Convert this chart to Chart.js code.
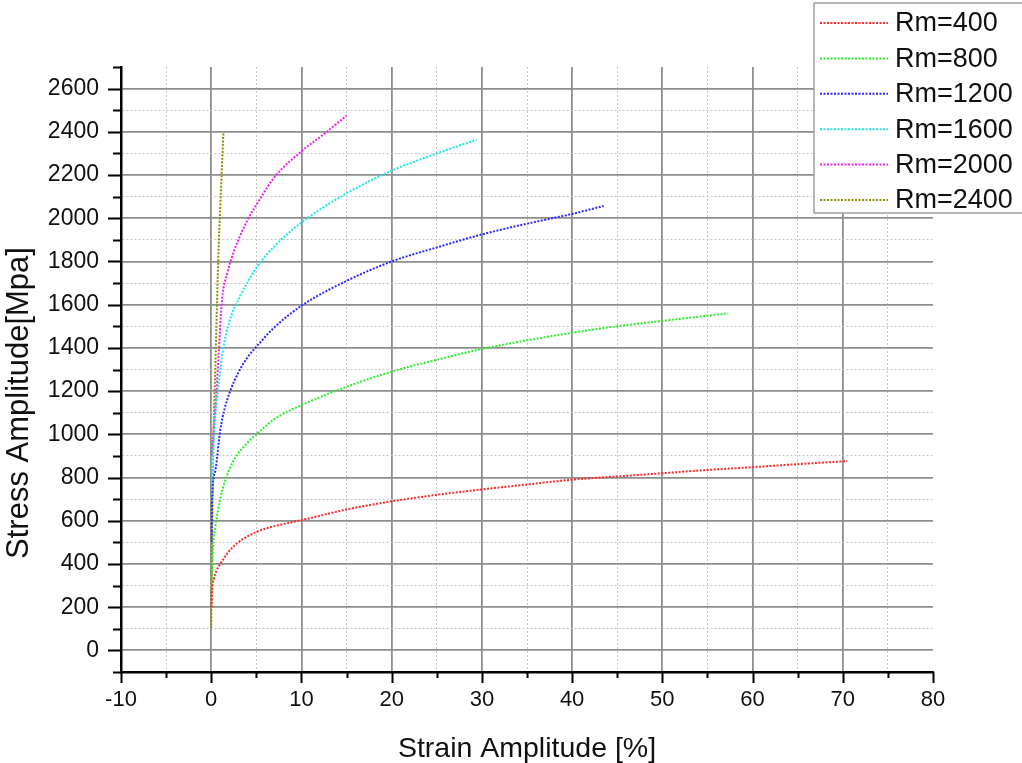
<!DOCTYPE html>
<html>
<head>
<meta charset="utf-8">
<script src="https://cdn.jsdelivr.net/npm/chart.js@4"></script>
<style>
  body { margin: 0; background: #fff; }
</style>
</head>
<body>
<canvas id="curveChart" width="1022" height="763"></canvas>
<script>
// Values (strain in %, stress in MPa)
const seriesLabels = ['Rm=400', 'Rm=800', 'Rm=1200', 'Rm=1600', 'Rm=2000', 'Rm=2400'];
const seriesColors = ['#ff2a2a', '#2aef2a', '#2a2aff', '#1fe6e6', '#f21ff2', '#8f8f00'];

const strain400 = [0.05, 0.1, 0.3, 0.6, 1, 2, 3, 5, 7, 10, 15, 20, 25, 30, 35, 40, 45, 50, 55, 60, 65, 70.5];
const stress400 = [200, 275, 330, 370, 400, 460, 500, 548, 575, 603, 652, 690, 720, 745, 768, 790, 805, 820, 835, 848, 862, 876];

const strain800 = [0.05, 0.2, 0.45, 1, 1.5, 2.5, 4, 5, 7, 10, 15, 20, 25, 30, 35, 40, 45, 50, 57.3];
const stress800 = [300, 480, 570, 700, 780, 880, 960, 1000, 1070, 1135, 1220, 1290, 1345, 1395, 1435, 1470, 1500, 1525, 1560];

const strain1200 = [0.05, 0.1, 0.45, 1, 1.5, 2.1, 3, 4, 5.1, 7, 10, 15, 20, 25, 30, 35, 40, 43.5];
const stress1200 = [500, 690, 830, 1020, 1120, 1200, 1285, 1355, 1410, 1495, 1595, 1710, 1800, 1865, 1925, 1975, 2020, 2057];

const strain1600 = [0.05, 0.3, 0.8, 1.35, 2, 3.2, 5, 7, 10, 15, 20, 25, 29.4];
const stress1600 = [700, 1000, 1220, 1400, 1520, 1640, 1770, 1870, 1980, 2115, 2220, 2300, 2363];

const strain2000 = [0.05, 0.6, 0.8, 1.2, 1.8, 2.5, 4, 5.5, 7, 10, 12.5, 15];
const stress2000 = [900, 1205, 1358, 1622, 1750, 1845, 1990, 2095, 2190, 2310, 2390, 2475];

const strain2400 = [0, 0.05, 0.1, 0.25, 0.45, 0.65, 0.8, 1.0, 1.2, 1.35];
const stress2400 = [100, 300, 540, 1005, 1300, 1622, 1840, 2050, 2250, 2395];

const xMin = -10, xMax = 80, xStep = 5;
const yMin = -100, yMax = 2700, yStep = 100;

const strains = [strain400, strain800, strain1200, strain1600, strain2000, strain2400];
const stresses = [stress400, stress800, stress1200, stress1600, stress2000, stress2400];

const FONT = '"Liberation Sans", Arial, sans-serif';

const datasets = seriesLabels.map((label, i) => ({
    label: label,
    data: strains[i].map((x, j) => ({ x: x, y: stresses[i][j] })),
    borderColor: seriesColors[i],
    backgroundColor: seriesColors[i],
    borderWidth: 2,
    borderDash: [2, 1.5],
    pointRadius: 0,
    cubicInterpolationMode: 'monotone',
    fill: false
}));

function isMajorX(v) { return v % 10 === 0; }
function isMajorY(v) { return v % 200 === 0; }

// grid styling: solid gray for major, dotted light gray for minor, none at the top / right end
function gridOpts(isMajor, maxVal) {
    const hidden = v => Math.abs(v - maxVal) < 1e-6;
    return {
        drawTicks: false,
        color: ctx => {
            if (!ctx.tick || hidden(ctx.tick.value)) return 'rgba(0,0,0,0)';
            return isMajor(ctx.tick.value) ? '#8e8e8e' : '#c6c6c6';
        },
        lineWidth: ctx => {
            if (!ctx.tick || hidden(ctx.tick.value)) return 0;
            return isMajor(ctx.tick.value) ? 1.8 : 1;
        }
    };
}

// ticks drawn outward, long for major, short for minor; plus axis titles and legend
const decorations = {
    id: 'decorations',
    afterDraw(chart) {
        const c = chart.ctx;
        const xs = chart.scales.x, ys = chart.scales.y;
        const area = chart.chartArea;
        c.save();
        c.strokeStyle = '#000';
        c.lineWidth = 2;
        c.beginPath();
        for (let v = xMin; v <= xMax; v += xStep) {
            const px = Math.round(xs.getPixelForValue(v)) + 0.5;
            c.moveTo(px, area.bottom);
            c.lineTo(px, area.bottom + (isMajorX(v) ? 11 : 6));
        }
        for (let v = yMin; v <= yMax; v += yStep) {
            const py = Math.round(ys.getPixelForValue(v)) + 0.5;
            c.moveTo(area.left, py);
            c.lineTo(area.left - (isMajorY(v) ? 13 : 8), py);
        }
        c.stroke();

        // axis titles
        c.fillStyle = '#111';
        c.textAlign = 'center';
        c.textBaseline = 'alphabetic';
        c.font = '28.5px ' + FONT;
        c.fillText('Strain Amplitude [%]', 527, 757);
        c.save();
        c.translate(28, 403);
        c.rotate(-Math.PI / 2);
        c.font = '31px ' + FONT;
        c.fillText('Stress Amplitude[Mpa]', 0, 0);
        c.restore();

        // legend
        c.fillStyle = '#fff';
        c.fillRect(814, 3, 220, 210);
        c.strokeStyle = '#a0a0a0';
        c.lineWidth = 1.5;
        c.strokeRect(814, 3, 220, 210);
        c.font = '27px ' + FONT;
        c.textAlign = 'left';
        c.textBaseline = 'middle';
        chart.data.datasets.forEach((ds, i) => {
            const y = 23 + i * 35.4;
            c.strokeStyle = ds.borderColor;
            c.lineWidth = 2;
            c.setLineDash([2, 1.5]);
            c.beginPath();
            c.moveTo(820, y);
            c.lineTo(888, y);
            c.stroke();
            c.setLineDash([]);
            c.fillStyle = '#111';
            c.fillText(ds.label, 895, y + 1);
        });
        c.restore();
    }
};

new Chart(document.getElementById('curveChart').getContext('2d'), {
    type: 'line',
    data: { datasets: datasets },
    options: {
        responsive: false,
        animation: false,
        layout: { padding: { top: 67, right: 89, left: 0, bottom: 0 } },
        plugins: { legend: { display: false }, tooltip: { enabled: false } },
        scales: {
            x: {
                type: 'linear',
                min: xMin,
                max: xMax,
                afterFit: s => { s.height = 91; },
                ticks: {
                    stepSize: xStep,
                    autoSkip: false,
                    maxRotation: 0,
                    padding: 15,
                    color: '#111',
                    font: { family: FONT, size: 22 },
                    callback: v => isMajorX(v) ? v : ''
                },
                grid: gridOpts(isMajorX, xMax),
                border: {
                    color: '#000',
                    width: 2.5,
                    dash: ctx => ctx.tick && !isMajorX(ctx.tick.value) ? [2, 2] : []
                }
            },
            y: {
                type: 'linear',
                min: yMin,
                max: yMax,
                afterFit: s => { s.width = 121; },
                ticks: {
                    stepSize: yStep,
                    autoSkip: false,
                    padding: 22,
                    color: '#111',
                    font: { family: FONT, size: 23 },
                    callback: v => (isMajorY(v) && v >= 0 && v <= 2600) ? v : ''
                },
                grid: gridOpts(isMajorY, yMax),
                border: {
                    color: '#000',
                    width: 2.5,
                    dash: ctx => ctx.tick && !isMajorY(ctx.tick.value) ? [2, 2] : []
                }
            }
        }
    },
    plugins: [decorations]
});
</script>
</body>
</html>
